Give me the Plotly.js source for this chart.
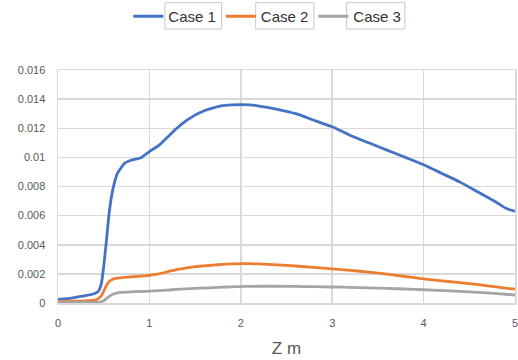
<!DOCTYPE html>
<html>
<head>
<meta charset="utf-8">
<script src="https://cdn.plot.ly/plotly-3.0.1.min.js"></script>
<style>html,body{margin:0;padding:0;background:#fff;}#chart{width:518px;height:360px;}</style>
</head>
<body>
<div id="chart"></div>
<script>
const zValues = [0, 0.1, 0.2, 0.3, 0.4, 0.44, 0.475, 0.5, 0.53, 0.56, 0.6, 0.65, 0.73, 0.8, 0.9, 1.0, 1.1, 1.2, 1.3, 1.4, 1.5, 1.6, 1.7, 1.8, 1.9, 2.0, 2.1, 2.2, 2.4, 2.6, 2.8, 3.0, 3.2, 3.4, 3.6, 3.8, 4.0, 4.2, 4.4, 4.6, 4.8, 4.9, 5.0];
const case1 = [0.00025, 0.0003, 0.0004, 0.0005, 0.00065, 0.0008, 0.00135, 0.0025, 0.0043, 0.0062, 0.0078, 0.0089, 0.0096, 0.0098, 0.00995, 0.0104, 0.0108, 0.0114, 0.0120, 0.0125, 0.0129, 0.0132, 0.0134, 0.01355, 0.0136, 0.01362, 0.0136, 0.01352, 0.0133, 0.0130, 0.01255, 0.0121, 0.0115, 0.0110, 0.0105, 0.0100, 0.0095, 0.0089, 0.0083, 0.0076, 0.0069, 0.0065, 0.0063];
const case2 = [0.0001, 0.0001, 0.00012, 0.00015, 0.0002, 0.0003, 0.0005, 0.0008, 0.0012, 0.00148, 0.00163, 0.0017, 0.00176, 0.0018, 0.00184, 0.0019, 0.002, 0.00215, 0.0023, 0.0024, 0.0025, 0.00255, 0.0026, 0.00265, 0.00268, 0.0027, 0.0027, 0.00268, 0.00262, 0.00254, 0.00244, 0.00234, 0.00224, 0.00212, 0.00198, 0.00182, 0.00166, 0.00152, 0.0014, 0.00126, 0.0011, 0.00102, 0.00095];
const case3 = [0.00003, 0.00003, 0.00004, 0.00004, 0.00005, 0.00006, 0.0001, 0.00016, 0.0003, 0.00045, 0.0006, 0.0007, 0.00074, 0.00076, 0.00079, 0.00082, 0.00085, 0.00089, 0.00093, 0.00097, 0.001, 0.00103, 0.00106, 0.00109, 0.00111, 0.00113, 0.00114, 0.00115, 0.00115, 0.00114, 0.00112, 0.0011, 0.00107, 0.00104, 0.001, 0.00096, 0.00091, 0.00086, 0.0008, 0.00073, 0.00065, 0.0006, 0.00055];
const seriesNames = ['Case 1', 'Case 2', 'Case 3'];
const yTickVals = [0, 0.002, 0.004, 0.006, 0.008, 0.01, 0.012, 0.014, 0.016];
const yTickText = ['0', '0.002', '0.004', '0.006', '0.008', '0.01', '0.012', '0.014', '0.016'];
const xTickVals = [0, 1, 2, 3, 4, 5];
const xTickText = ['0', '1', '2', '3', '4', '5'];
const xTitle = 'Z m';

const colors = ['#4472C4', '#ED7D31', '#A5A5A5'];
const allY = [case1, case2, case3];
const traces = allY.map((ys, i) => ({
  x: zValues, y: ys, name: seriesNames[i], type: 'scatter', mode: 'lines',
  line: {color: colors[i], width: 2.8, shape: 'spline', smoothing: 0.5}
}));

// decorative boxes around legend labels (paper coordinates)
const legendBoxes = [[0.234, 0.358], [0.4326, 0.560], [0.6317, 0.759]];
const shapes = legendBoxes.map(b => ({
  type: 'rect', xref: 'paper', yref: 'paper', x0: b[0], x1: b[1], y0: 1.176, y1: 1.289,
  line: {color: '#c8c8c8', width: 1}, fillcolor: 'rgba(0,0,0,0)', layer: 'below'
}));

const layout = {
  width: 518, height: 360,
  margin: {l: 58, r: 3, t: 70, b: 57},
  paper_bgcolor: '#ffffff', plot_bgcolor: '#ffffff',
  font: {family: 'Liberation Sans, Arial, sans-serif', color: '#595959'},
  showlegend: true,
  shapes: shapes,
  legend: {orientation: 'h', x: 0.458, xanchor: 'center', y: 1, yref: 'container', yanchor: 'top',
           font: {size: 15, color: '#333333'}, traceorder: 'normal', bgcolor: 'rgba(0,0,0,0)'},
  xaxis: {range: [0, 5], tickvals: xTickVals, ticktext: xTickText, tickfont: {size: 11, color: '#595959'},
          showgrid: true, gridcolor: '#d9d9d9', gridwidth: 1.5, zeroline: false, ticklabeloverflow: 'allow',
          showline: true, linecolor: '#d9d9d9', linewidth: 1.5, mirror: true,
          ticks: 'outside', ticklen: 9, tickcolor: 'rgba(0,0,0,0)',
          title: {text: xTitle, font: {size: 17, color: '#595959'}, standoff: 14}},
  yaxis: {range: [0, 0.016], tickvals: yTickVals, ticktext: yTickText, tickfont: {size: 11, color: '#595959'},
          showgrid: true, gridcolor: '#d9d9d9', gridwidth: 1.5, zeroline: false,
          showline: true, linecolor: '#d9d9d9', linewidth: 1.5, mirror: true,
          ticks: 'outside', ticklen: 9, tickcolor: 'rgba(0,0,0,0)'}
};

Plotly.newPlot('chart', traces, layout, {displayModeBar: false, staticPlot: true});
</script>
</body>
</html>
